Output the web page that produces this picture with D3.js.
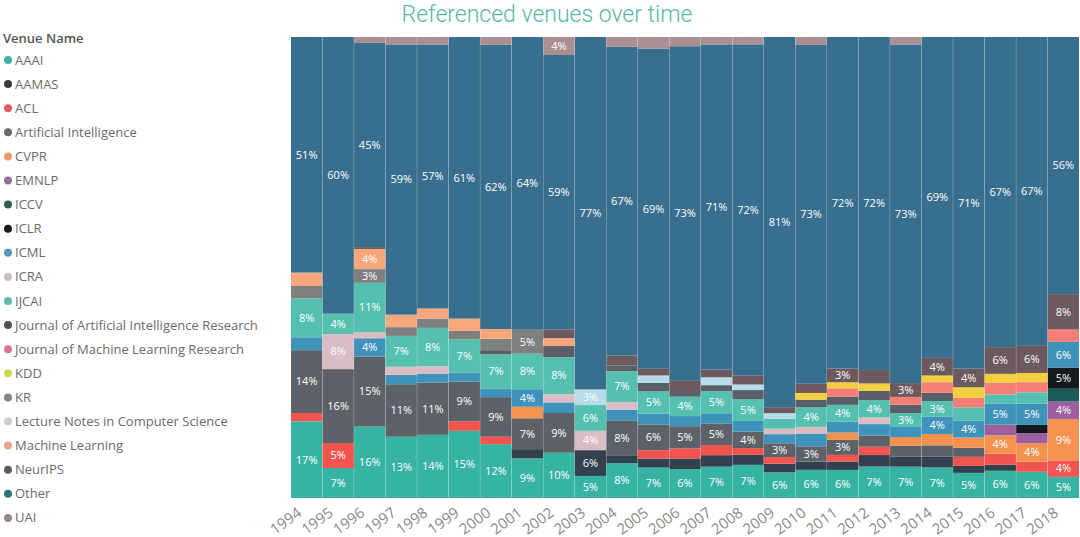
<!DOCTYPE html>
<html><head><meta charset="utf-8">
<script src="https://cdn.jsdelivr.net/npm/d3@7/dist/d3.min.js"></script>
<style>html,body{margin:0;padding:0;background:#fff;overflow:hidden}svg{display:block}</style>
</head><body><svg id="c" width="1080" height="537"></svg>
<script>
const years=[1994,1995,1996,1997,1998,1999,2000,2001,2002,2003,2004,2005,2006,2007,2008,2009,2010,2011,2012,2013,2014,2015,2016,2017,2018];
const venues=["AAAI","AAMAS","ACL","Artificial Intelligence","CVPR","EMNLP","ICCV","ICLR","ICML","ICRA","IJCAI","Journal of Artificial Intelligence Research","Journal of Machine Learning Research","KDD","KR","Lecture Notes in Computer Science","Machine Learning","NeurIPS","Other","UAI"];
const colors=["#37b3a4","#33414e","#f2554f","#5d6268","#f4924f","#9d5f9f","#1d5a5a","#14191e","#3f93bb","#d9bcc4","#55c0b0","#5a5e66","#f57f78","#f2cf3e","#7e8080","#b5dce8","#f7a77c","#6d5a5e","#386f8f","#a98f92"];
const legendColors=["#3fb39f","#3a3a40","#e35a68","#6a6a70","#e89a68","#8f7490","#2a5f55","#1a1a1e","#4f98ad","#c9bcc4","#62b8ae","#4f4f55","#dd7390","#d2d84e","#858585","#c3cfdc","#e8a58c","#5a5a60","#32727a","#96868e"];
const AAAI=[16.6,6.5,15.6,13.3,13.7,14.6,11.7,8.6,9.8,4.8,7.6,6.6,6.3,6.8,7.2,5.6,6.1,6.1,6.8,6.8,6.6,5.4,5.9,5.7,4.6];
const AAMAS=[0,0,0,0,0,0,0,2,0,5.6,1.7,1.95,2.3,2.5,2.2,1.9,1.8,1.8,2.5,2.2,2.4,1.5,1.3,0,0];
const ACL=[1.8,5.4,0,0,0,2.1,1.6,0,0,0,0,1.8,2.2,2.2,1.45,1.45,0,1.45,1.8,0,0,1.95,2.4,2.2,3.6];
const AI=[13.6,16,15.3,11.4,11.3,8.6,8.6,6.7,8.6,0,7.6,5.6,4.8,4.7,3.6,3,3.3,3.25,2.4,2.3,2.4,1.95,0,0,0];
const CVPR=[0,0,0,0,0,0,0,2.5,0,0,0,0,0,0,0,0,0,1.6,0,1.9,2.45,2.2,4,4,9];
const EMNLP=[0,0,0,0,0,0,0,0,0,0,0,0,0,0,0,0,0,0,0,0,0,0,2.3,2.2,3.8];
const ICCV=[0,0,0,0,0,0,0,0,0,0,0,0,0,0,0,0,0,0,0,0,0,0,0,0,2.8];
const ICLR=[0,0,0,0,0,0,0,0,0,0,0,0,0,0,0,0,0,0,0,0,0,0,0,1.8,4.6];
const ICML=[2.8,0,4,2,2,2,1.9,3.8,2.3,0,2.3,2.3,2.2,2.2,2.3,2,2.75,2.4,2.5,2.2,3.7,3.6,4.6,4.6,5.6];
const ICRA=[0,7.6,1.3,1.8,1.6,0,0,0,1.8,4.2,1.7,0,0,0,0,1.2,1.45,0,1.45,0,0,0,0,0,0];
const IJCAI=[8.4,4.4,10.8,6.7,8.3,7.2,7.4,7.7,8,5.6,6.7,4.9,4.2,4.8,4.7,2.2,4.3,3.6,3.75,3,3.4,2.9,1.95,2.5,0];
const JAIR=[0,0,0,0,0,0,0.9,0,2.4,0,1.2,1.8,1.45,1.3,2,0,1.6,1.8,2,1.8,1.8,0,0,0,0];
const JMLR=[0,0,0,0,0,0,0,0,0,0,0,0,0,0,0,0,0,1.8,0,1.7,2.3,2,2.5,2.2,2.7];
const KDD=[0,0,0,0,0,0,0,0,0,0,0,0,0,0,0,0,1.45,1.3,1.6,0,1.45,2.3,1.95,2,0];
const KR=[2.7,0,3,1.9,2,1.8,2.5,5.2,0,0,0,0,0,0,0,0,0,0,0,0,0,0,0,0,0];
const LNCS=[0,0,0,0,0,0,0,0,0,3.4,0,1.6,0,1.7,1.2,1.2,0,0,0,0,0,0,0,0,0];
const ML=[2.9,0,4.4,2.7,2.2,2.7,2.1,0,1.7,0,0,0,0,0,0,0,0,0,0,0,0,0,0,0,0];
const NeurIPS=[0,0,0.4,0,0,0,0,0,1.9,0,2.2,1.45,2,1.7,2,1.3,2,3,2.9,3,3.8,4,5.8,5.9,7.7];
const Other=[51,59.9,44.6,58.7,57.3,61.2,61.7,63.5,59.4,76.6,67.2,69.4,72.7,70.6,71.9,80.9,73.4,71.9,72.1,73.4,69.4,71.3,67.2,67.2,56];
const UAI=[0,0,1.3,1.6,1.6,0,1.7,0,3.9,0,2.1,2.5,2,1.6,1.6,0,1.7,0,0,1.6,0,0,0,0,0];
const seriesValues=[AAAI,AAMAS,ACL,AI,CVPR,EMNLP,ICCV,ICLR,ICML,ICRA,IJCAI,JAIR,JMLR,KDD,KR,LNCS,ML,NeurIPS,Other,UAI];
const labelThreshold=3;

const rows=years.map((y,i)=>{const r={year:y};venues.forEach((v,k)=>r[v]=seriesValues[k][i]);return r;});
const stacked=d3.stack().keys(venues).offset(d3.stackOffsetExpand)(rows);
const svg=d3.select("#c");
const font="'Open Sans',sans-serif";
const x=d3.scaleBand().domain(years).range([291,1079]).paddingInner(0.007).paddingOuter(0);
const y=d3.scaleLinear().domain([0,1]).range([498,37]);
const color=d3.scaleOrdinal().domain(venues).range(colors);
const legendColor=d3.scaleOrdinal().domain(venues).range(legendColors);

svg.append("text").attr("x",547).attr("y",21.5).attr("text-anchor","middle")
  .attr("font-family","Roboto,sans-serif").attr("font-size",23).attr("font-weight",300).attr("fill","#57b8a8")
  .text("Referenced venues over time");

const g=svg.append("g");
const layers=g.selectAll("g.layer").data(stacked).join("g").attr("class","layer").attr("fill",d=>color(d.key));
layers.selectAll("rect").data(d=>d.filter(p=>p[1]>p[0])).join("rect")
  .attr("x",d=>x(d.data.year)).attr("width",x.bandwidth())
  .attr("y",d=>y(d[1])).attr("height",d=>y(d[0])-y(d[1]));

const labels=[];
stacked.forEach((s,k)=>s.forEach((p,i)=>{const v=seriesValues[k][i];if(v>=labelThreshold)labels.push({year:years[i],v,mid:(p[0]+p[1])/2});}));
svg.append("g").selectAll("text").data(labels).join("text")
  .attr("x",d=>x(d.year)+x.bandwidth()/2).attr("y",d=>y(d.mid)).attr("dy","0.35em")
  .attr("text-anchor","middle").attr("font-family",font).attr("font-size",11).attr("fill","#fff")
  .text(d=>Math.round(d.v)+"%");

const xAxis=svg.append("g").attr("transform","translate(0,498)")
  .call(d3.axisBottom(x).tickSize(0).tickFormat(d3.format("d")));
xAxis.select(".domain").remove();
xAxis.selectAll("text").attr("font-family",font).attr("font-size",15).attr("fill","#8a8a8a")
  .attr("text-anchor","end").attr("dy",0).attr("y",0)
  .attr("transform","translate(-4,17) rotate(-36)");

svg.append("text").attr("x",3).attr("y",43).attr("font-family",font).attr("font-size",13).attr("font-weight",600).attr("fill","#555").text("Venue Name");
const leg=svg.append("g").selectAll("g").data(venues).join("g")
  .attr("transform",(d,i)=>`translate(0,${60+i*24.1})`);
leg.append("circle").attr("cx",8).attr("cy",0).attr("r",4).attr("fill",d=>legendColor(d));
leg.append("text").attr("x",15).attr("y",0).attr("dy","0.35em").attr("font-family",font).attr("font-size",13).attr("fill","#6a6a6a").text(d=>d);
</script></body></html>
